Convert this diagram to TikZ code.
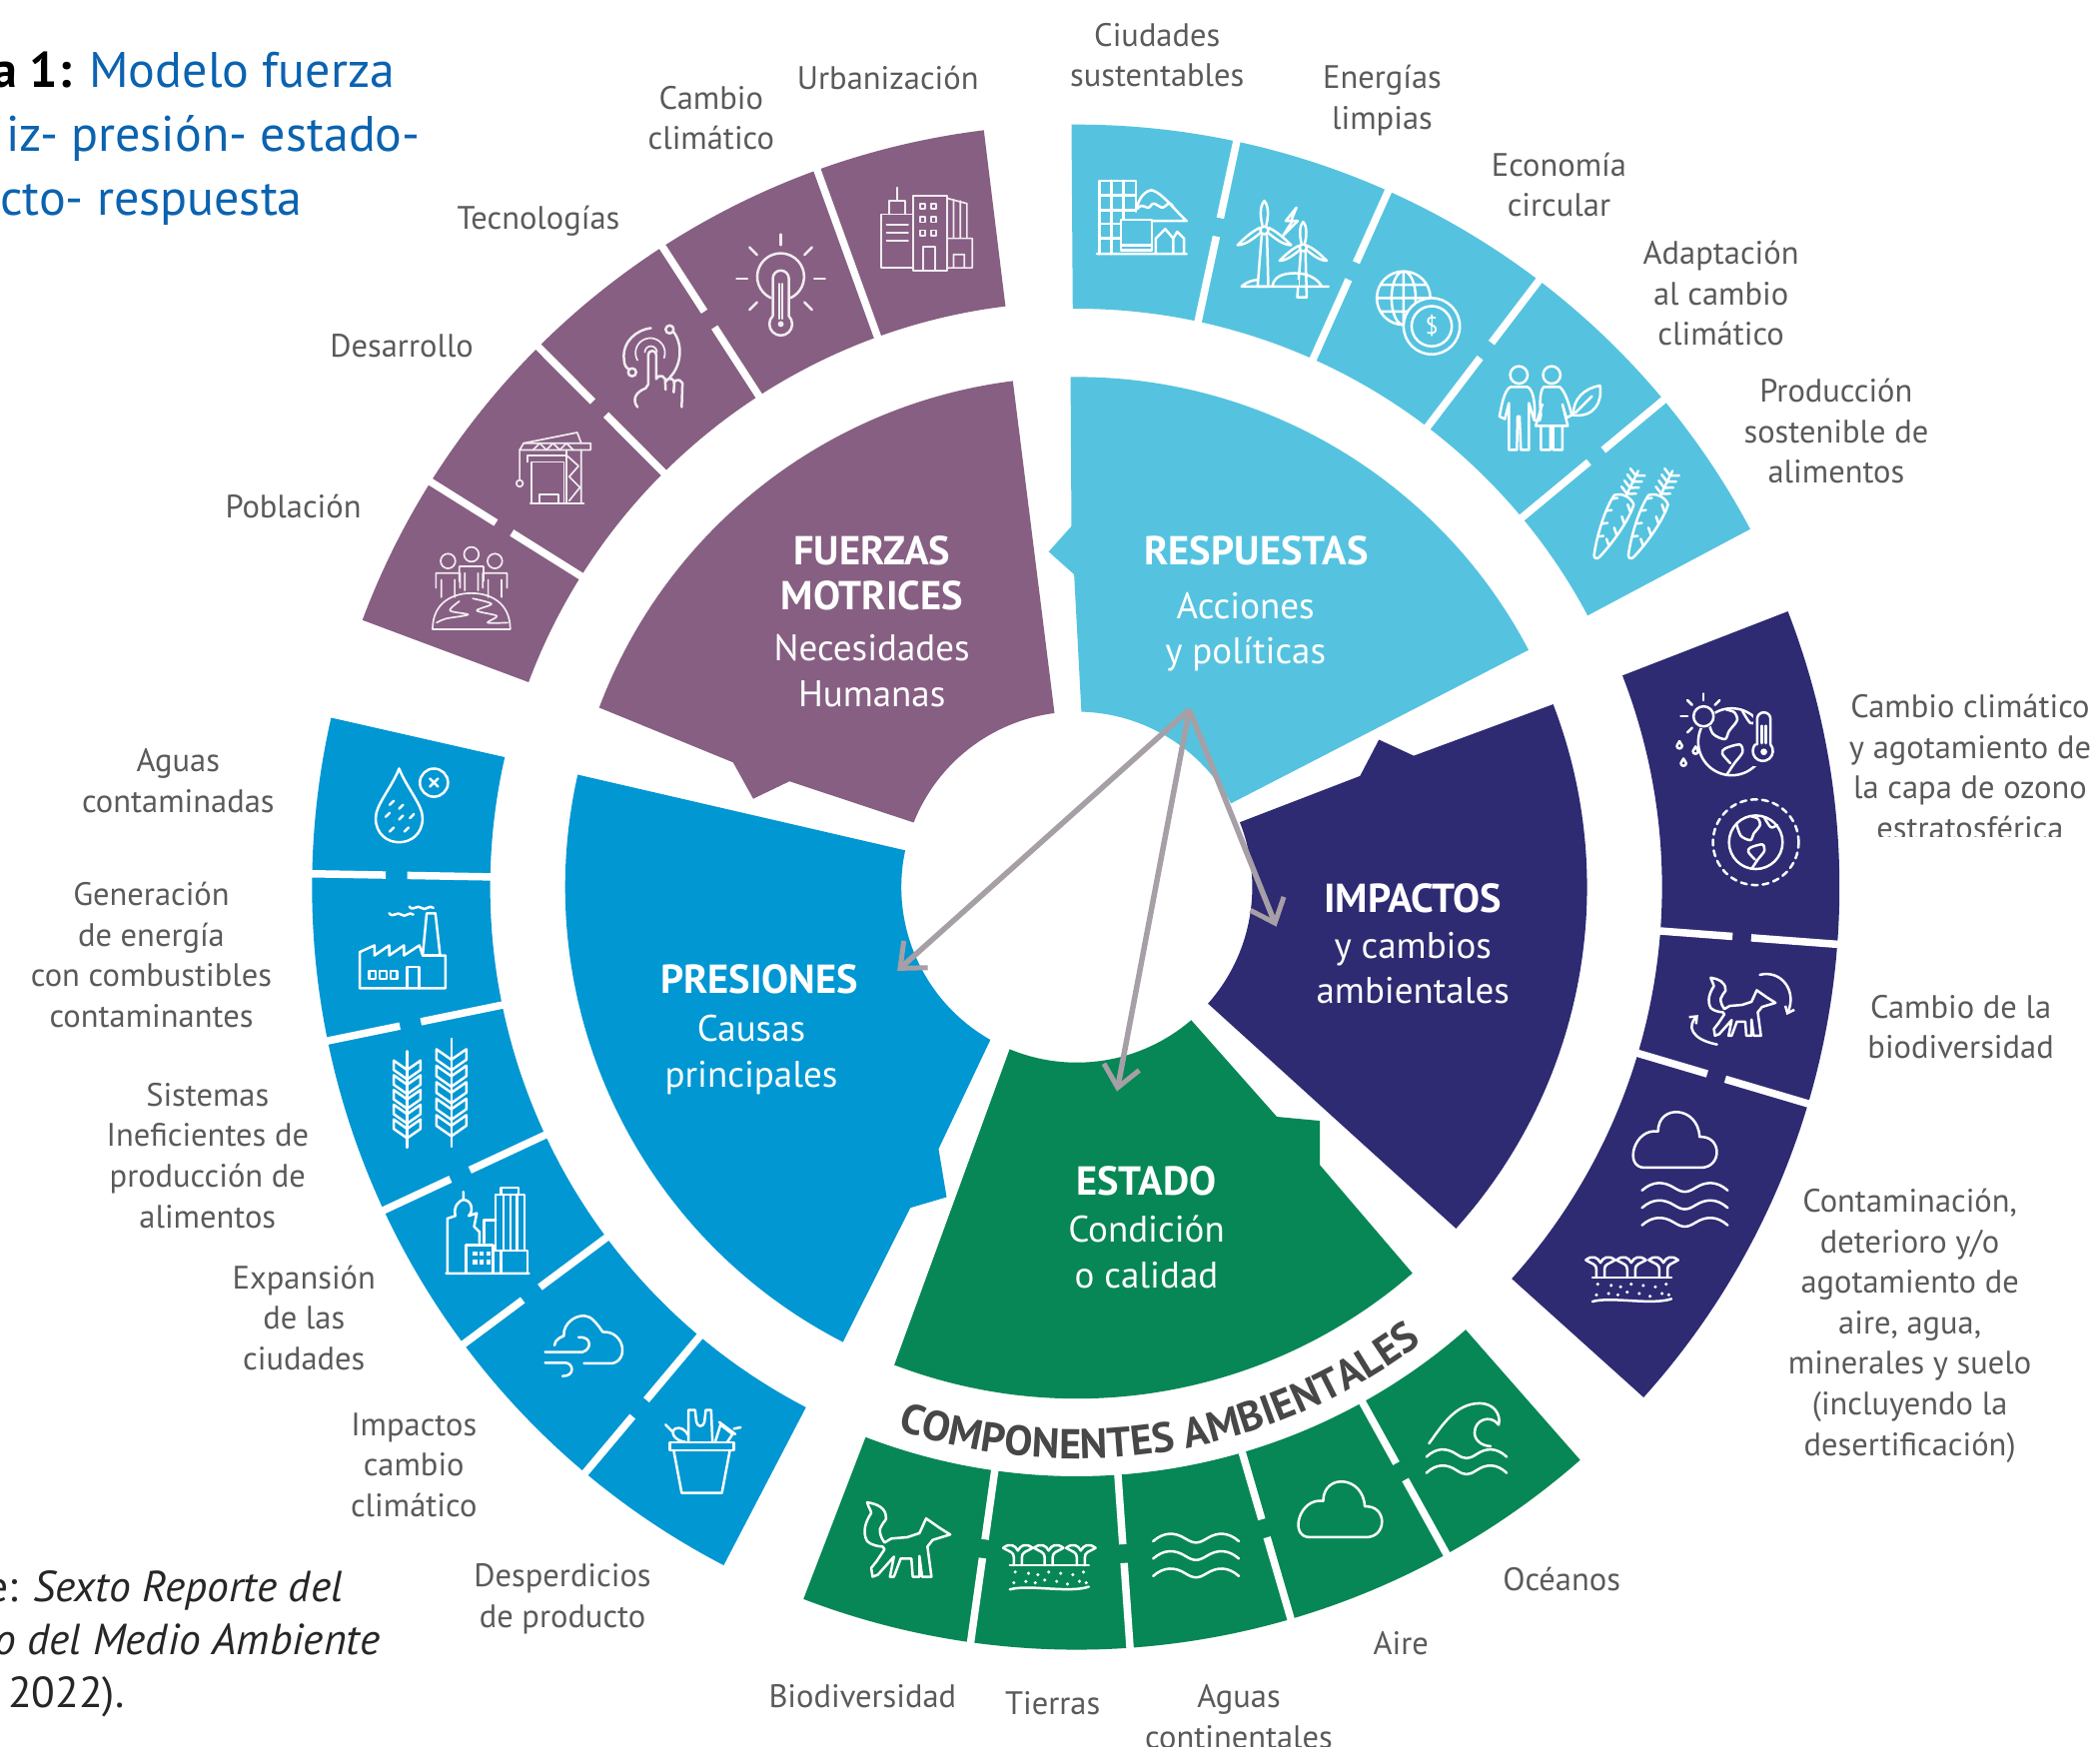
\documentclass[tikz,border=0pt]{standalone}
\usepackage{fontspec}
\setmainfont{PT Sans}
\usetikzlibrary{arrows.meta,decorations.text,calc}
\definecolor{cpur}{HTML}{875F83}
\definecolor{ccya}{HTML}{55C3DF}
\definecolor{cnav}{HTML}{2E2B73}
\definecolor{cgre}{HTML}{078755}
\definecolor{cblu}{HTML}{0097D3}
\definecolor{ctxt}{HTML}{5A5A5A}
\definecolor{ctit}{HTML}{0B63B0}
\definecolor{carr}{HTML}{A69FA6}
\colorlet{iconc}{white}
\newcommand{\ringseg}[5]{\fill[#1] ([shift={(c)}]#4:#3) arc[start angle=#4,end angle=#5,radius=#3] -- ([shift={(c)}]#5:#2) arc[start angle=#5,end angle=#4,radius=#2] -- cycle;}
\newcommand{\gapcut}[5]{\draw[cutline] ([shift={(c)}]#1:#2) -- ([shift={(c)}]#1:#4); \draw[cutline] ([shift={(c)}]#1:#5) -- ([shift={(c)}]#1:#3);}
\newcommand{\fullcut}[3]{\draw[cutline] ([shift={(c)}]#1:#2) -- ([shift={(c)}]#1:#3);}
\newcommand{\wavepath}[2]{(-#2,#1-2) .. controls (-.75*#2,#1+5) and (-.5*#2,#1+5) .. (-.25*#2,#1) .. controls (-.05*#2,#1-4) and (.05*#2,#1-4) .. (.25*#2,#1) .. controls (.5*#2,#1+5) and (.75*#2,#1+5) .. (#2,#1-2)}
\tikzset{
 x=1.34056pt,y=1.34056pt,
 cutline/.style={white,line width=7.5pt},
 ic/.style={draw=iconc,line width=2.5pt,line cap=round,line join=round},
 thin ic/.style={ic,line width=1.7pt},
 lab/.style={inner sep=0pt,align=center,text=ctxt,font=\fontsize{32.5}{40.6}\selectfont},
 head/.style={inner sep=0pt,align=center,text=white,font=\fontsize{40.5}{45.7}\selectfont\bfseries},
 sub/.style={inner sep=0pt,align=center,text=white,font=\fontsize{37}{45.7}\selectfont},
 tit/.style={inner sep=0pt,anchor=base east,text=ctit,font=\fontsize{50}{50}\selectfont},
 src/.style={inner sep=0pt,anchor=base east,text=black!85,font=\fontsize{43.5}{50}\selectfont},
 flow/.style={draw=carr,line width=5.5pt,-{Straight Barb[length=21pt,width=36pt,line width=5pt]}},
 pics/cloudi/.style={code={\draw[ic] (-22,-20) -- (20,-20) .. controls (36,-20) and (36,4) .. (19,3) .. controls (18,26) and (-12,28) .. (-12,7) .. controls (-30,10) and (-38,-20) .. (-22,-20) -- cycle;}},
 pics/wavesi/.style={code={\draw[ic] \wavepath{13}{32} \wavepath{0}{32} \wavepath{-13}{32};}},
 pics/planti/.style={code={
   \foreach \q in {-23,0,24}{\draw[ic] (\q-11,13) .. controls (\q-6,17) and (\q-2,15) .. (\q,11) .. controls (\q+2,15) and (\q+6,17) .. (\q+11,13) .. controls (\q+6,10) and (\q+3,10) .. (\q+3,6) -- (\q+3,0) (\q-11,13) .. controls (\q-6,10) and (\q-3,10) .. (\q-3,6) -- (\q-3,0);}
   \draw[ic] (-29,0) -- (30,0);
   \draw[ic] (-29,-18) .. controls (-15,-14) and (15,-21) .. (30,-16);
   \foreach \q/\r in {-25/-5,-15/-6,-8/-7,0/-5,9/-6,18/-7,26/-5,-26/-13,-17/-12,-10/-13,-3/-11,6/-12,14/-14,23/-12,28/-13}{\fill[iconc] (\q,\r) circle (1.3);}
 }},
 pics/foxi/.style={code={\draw[ic] (33,4) -- (25,9) -- (15,16) -- (10,5) -- (1,2) -- (-11,1) -- (-16,-2) .. controls (-20,3) and (-20,9) .. (-19,9) .. controls (-17,14) and (-14,15) .. (-15,17) .. controls (-15,24) and (-22,27) .. (-29,28) .. controls (-28,24) and (-26,22) .. (-26,20) .. controls (-30,14) and (-33,6) .. (-29,-1) .. controls (-26,-4) and (-20,-5) .. (-17.5,-5) -- (-16,-7) -- (-22,-16) -- (-26,-21) -- (-25,-27.5) -- (-21,-26) -- (-9,-12.5) -- (-12,-27.5) -- (-9,-27.5) -- (-4,-14) -- (4,-14) -- (5,-27.5) -- (10,-27.5) -- (10,-12) -- (12,-27.5) -- (19,-27.5) -- (16,-5) -- (20,0) -- cycle;}},
 pics/popi/.style={code={
   \draw[thin ic] (-29,-30) -- (29,-30) (-29,-30) .. controls (-29,-10) and (-14,-3) .. (0,-3) .. controls (14,-3) and (29,-10) .. (29,-30);
   \draw[thin ic] plot[smooth] coordinates {(-26,-25) (-19,-22) (-2.5,-19) (-16,-16) (-9,-9)};
   \draw[thin ic] plot[smooth] coordinates {(1,-7) (15,-11) (4,-16) (19,-20) (12,-25) (27,-25)};
   \foreach \q/\r in {-17.5/21,0/26,17.5/21}{\draw[thin ic] (\q,\r) circle (5.5) (\q-9,\r-20) -- (\q-9,\r-9) -- (\q+9,\r-9) -- (\q+9,\r-20) (\q-5,\r-14) -- (\q-5,\r-27) (\q+5,\r-14) -- (\q+5,\r-27);}
 }},
 pics/crani/.style={code={
   \draw[thin ic] (-15,-26) -- (-15,5) -- (9,5) -- (9,-26) (-18,5) -- (-18,10) -- (11,10) -- (11,5);
   \draw[thin ic] (-16,-26) -- (24,-26) (-9,-26) -- (-9,-19) -- (5,-19) -- (5,-26);
   \draw[thin ic] (-24,14) -- (29,14) -- (29,19) -- (-21,19) -- cycle;
   \draw[thin ic] (-21,19) -- (19,27) -- (22,19) (-14,14) -- (-9,19) -- (-4,14) -- (1,19) -- (6,14) -- (11,19) -- (16,14);
   \draw[thin ic] (-24,14) -- (-24,-8) (-24,-11) circle (2.5);
   \draw[thin ic] (11,14) -- (11,-26) (22,14) -- (22,-26) (11,10) -- (20,2) -- (13,-6) -- (21,-14) -- (13,-24);
 }},
 pics/touchi/.style={code={
   \draw[thin ic] (-6.5,10) arc[start angle=180,end angle=0,radius=4.5];
   \draw[thin ic] (-12,4) arc[start angle=210,end angle=-20,radius=11];
   \draw[ic] (-2,28) .. controls (-12,27) and (-24,18) .. (-22,4) .. controls (-22,0) and (-20,-2) .. (-18,-3);
   \draw[ic] (-16,-5) circle (3) (12,27) circle (3);
   \draw[ic] (15,25) .. controls (22,16) and (21,0) .. (12,-9);
   \draw[ic] (-12,-31) .. controls (-16,-26) and (-14,-20) .. (-6,-17) -- (-4,-14) -- (-4,8) arc[start angle=180,end angle=0,radius=3] -- (2,-10) arc[start angle=160,end angle=20,radius=3.5] -- (9,-18) (9,-12) arc[start angle=160,end angle=20,radius=3.5] -- (15,-20) (15,-13) arc[start angle=160,end angle=20,radius=3.5] -- (21,-31);
 }},
 pics/thermi/.style={code={
   \draw[ic] (-7.5,-8.5) arc[start angle=245,end angle=-65,radius=17.5];
   \draw[ic] (-6,-22) -- (-6,6) arc[start angle=180,end angle=0,radius=6] -- (6,-22) arc[start angle=45,end angle=-225,radius=8.5];
   \draw[ic] (-1,2) -- (-1,-24) (1,2) -- (1,-24);
   \fill[iconc] (0,-28) circle (2.2);
   \foreach \a in {0,45,90,135,180,-45,225}{\draw[ic] ([shift={(0,6)}]\a:25) -- ([shift={(0,6)}]\a:33);}
 }},
 pics/towni/.style={code={
   \draw[thin ic] (-32,-28) rectangle (-8,12) (-26,12) -- (-26,22) -- (-14,22) -- (-14,12) (-20,22) -- (-20,32) (-28,4) -- (-12,4) (-28,-2) -- (-12,-2) (-28,-8) -- (-12,-8);
   \draw[thin ic] (-8,-30) rectangle (17,26) (-1,-30) -- (-1,-12) -- (8,-12) -- (8,-30);
   \foreach \q in {-3,5}{\foreach \r in {16,6,-4}{\draw[thin ic] (\q,\r) rectangle ++(4,4);}}
   \draw[thin ic] (17,24) -- (32,20) -- (32,-6) (22,23) -- (22,-6) (27,22) -- (27,-6) (17,-6) -- (36,-6) -- (36,-28) -- (17,-28) (22,-28) -- (22,-18) -- (30,-18) -- (30,-28);
 }},
 pics/cityi/.style={code={
   \draw[ic] (-31,-27.5) -- (-31,27) -- (-4,27) -- (-4,4) (-31,-16) -- (-15,-16) (-31,-5) -- (-15,-5) (-31,5) -- (-4,5) (-31,16) -- (-4,16) (-22,-27.5) -- (-22,27) (-13,-2) -- (-13,27);
   \draw[ic] (-15,-2) rectangle (8,-25);
   \draw[ic] (-15,-21) -- (8,-21);
   \draw[ic] (-3,8) .. controls (0,18) and (6,20) .. (8,20) .. controls (16,18) and (26,4) .. (34,-3) -- (8,-3);
   \draw[ic] (-3,6) .. controls (2,12) and (4,4) .. (7,8) .. controls (10,14) and (14,4) .. (18,8) .. controls (20,10) and (22,12) .. (24,7);
   \draw[ic] (-33,-27.5) -- (34,-27.5) (11,-27.5) -- (11,-16) -- (18,-9) -- (24,-16) -- (24,-27.5) (24,-16) -- (27,-11) -- (32,-16) -- (32,-27.5);
 }},
 pics/milli/.style={code={
   \draw[ic] (-2,-4) -- (-5,-42) -- (3,-42) -- (2,-4);
   \draw[ic] (0,0) circle (3);
   \draw[ic] (-1.5,4) .. controls (-4,14) and (-2,20) .. (0,22) .. controls (2,20) and (4,14) .. (1.5,4);
   \draw[ic] (3,2) .. controls (10,-1) and (17,-8) .. (20,-11) .. controls (14,-11) and (8,-6) .. (3,-2);
   \draw[ic] (-3,2) .. controls (-10,-1) and (-17,-8) .. (-20,-11) .. controls (-14,-11) and (-8,-6) .. (-3,-2);
 }},
 pics/carroti/.style={code={
   \begin{scope}[rotate=64]
   \draw[ic] (-25,-2) .. controls (-10,-7) and (12,-10) .. (22,-8) .. controls (26,-4) and (26,4) .. (22,8) .. controls (12,10) and (-10,7) .. (-25,2) .. controls (-27,1) and (-27,-1) .. (-25,-2) -- cycle;
   \foreach \q/\s in {-14/5,-4/6.5,6/8,16/8}{\draw[ic] (\q,-\s) -- (\q+4,-\s+4) (\q+3,\s) -- (\q+5,\s-3);}
   \draw[ic] (25,0) -- (46,0);
   \foreach \q in {27,32,37,42}{\draw[ic] (\q,0) -- (\q+3,6) (\q,0) -- (\q+3,-6);}
   \end{scope}
 }},
 pics/eartheri/.style={code={
   \draw[ic] (0,0) circle (25);
   \draw[ic] plot[smooth] coordinates {(-18,17) (-14,6) (-5,2) (-2,8) (4,16) (2,22) (-4,24)};
   \draw[ic] plot[smooth] coordinates {(-4,-25) (2,-16) (8,-8) (6,-2) (-5,-5) (-7,-9) (-1,-16)};
   \draw[ic] plot[smooth] coordinates {(8,23) (14,14) (20,16)};
 }},
 pics/wheati/.style={code={
   \draw[ic] (0,-36) -- (0,36);
   \foreach \r in {-20,-9,2,13,24}{\draw[ic] (0,\r-9) -- (-10,\r-2) -- (-10,\r+5) -- (0,\r-2) -- (10,\r+5) -- (10,\r-2) -- (0,\r-9);}
 }},
}
\begin{document}
\begin{tikzpicture}
\path[use as bounding box] (0,0) rectangle (1568,-1310.64);
\clip (0,0) rectangle (1568,-1310.64);
\fill[white] (0,0) rectangle (1568,-1310.64);
\coordinate (c) at (804,-662.5);
% ---- outer rings
\ringseg{cpur}{437}{569.5}{97}{159.5}
\ringseg{ccya}{432}{569.5}{90.4}{28}
\ringseg{cnav}{437}{569.5}{21.2}{-42}
\ringseg{cgre}{440}{569.5}{-48.7}{-111}
\ringseg{cblu}{438}{571}{167.2}{242.5}
\fullcut{109.9}{430}{575}
\gapcut{122.9}{430}{575}{498}{512}
\gapcut{134.9}{430}{575}{498}{512}
\gapcut{147.9}{430}{575}{498}{512}
\gapcut{77.9}{425}{575}{497}{511}
\gapcut{65.9}{425}{575}{497}{511}
\gapcut{52.7}{425}{575}{497}{511}
\gapcut{39.7}{425}{575}{497}{511}
\gapcut{-4.3}{430}{575}{491}{505}
\gapcut{-16.5}{430}{575}{491}{505}
\gapcut{-61}{435}{575}{492}{506}
\gapcut{-73.7}{435}{575}{492}{506}
\gapcut{-86}{435}{575}{492}{506}
\gapcut{-98}{435}{575}{492}{506}
\gapcut{179}{430}{575}{500}{516}
\gapcut{191.6}{430}{575}{500}{516}
\gapcut{205}{430}{575}{500}{516}
\gapcut{216.7}{430}{575}{500}{516}
\gapcut{230}{430}{575}{500}{516}
% ---- inner sectors
\fill[cpur] ([shift={(c)}]97.2:381) arc[start angle=97.2,end angle=159.4,radius=381] -- (547.4,-569.4) -- (562.4,-596.5) -- (589.5,-583.5) -- ([shift={(c)}]158.4:131) arc[start angle=158.4,end angle=97.3,radius=131] -- cycle;
\fill[ccya] ([shift={(c)}]90.7:381) arc[start angle=90.7,end angle=27.7,radius=381] -- ([shift={(c)}]28.5:131) arc[start angle=28.5,end angle=88.5,radius=131] -- (802,-429) -- (783,-412) -- (800,-393) -- cycle;
\fill[cnav] ([shift={(c)}]21:381) arc[start angle=21,end angle=-42,radius=381] -- ([shift={(c)}]-41.6:131) arc[start angle=-41.6,end angle=21.7,radius=131] -- (1015.5,-579.5) -- (1029.6,-552.4) -- (1055.6,-564.4) -- cycle;
\fill[cgre] ([shift={(c)}]-49:382) arc[start angle=-49,end angle=-110.9,radius=382] -- ([shift={(c)}]-112.5:131) arc[start angle=-112.5,end angle=-49.3,radius=131] -- (953.4,-834) -- (985.5,-837) -- (985.5,-870) -- cycle;
\fill[cblu] ([shift={(c)}]167.3:382) arc[start angle=167.3,end angle=242.8,radius=382] -- (679.7,-902) -- (706.8,-894) -- (700.8,-858) -- ([shift={(c)}]240.5:131) arc[start angle=240.5,end angle=167.9,radius=131] -- cycle;
% ---- icons purple
\begin{scope}
\colorlet{iconc}{white!88!cpur}
\pic at (352,-440) {popi};
\pic at (412,-350) {crani};
\pic at (488,-273) {touchi};
\pic at (583,-214) {thermi};
\pic at (690,-172) {towni};
\end{scope}
% ---- icons cyan
\pic at (852,-162) {cityi};
\begin{scope}[shift={(957,-181)}]
 \pic at (-13,9) {milli};
 \pic[scale=.88] at (16,-4) {milli};
 \fill[ccya] (5,-34) rectangle (13,-28);
 \draw[ic] (-30,-33) -- (35,-33) (-30,-33) .. controls (-26,-29) and (-20,-28) .. (-18,-28) (-7,-33) .. controls (-6,-26) and (0,-23) .. (10,-23) .. controls (18,-23) and (26,-26) .. (30,-33);
 \draw[ic] (11,26) -- (3,16) -- (8,16) -- (1,5) -- (12,16) -- (7,16) -- cycle;
\end{scope}
\begin{scope}[shift={(1059,-233.6)}]
 \draw[ic] (-11,11) circle (20) (-11,11) ellipse (9 and 20) (-31,11) -- (9,11) (-28,21) -- (6,21) (-28,1) -- (6,1) (-11,31) -- (-11,-9);
 \fill[ccya] (10,-10) circle (21);
 \draw[ic] (10,-10) circle (21) (10,-10) circle (15);
 \node[inner sep=0pt,text=white,font=\fontsize{24}{24}\selectfont] (usd) at (10,-10) {\$};
\end{scope}
\begin{scope}[shift={(1158.6,-306)}]
 \draw[ic] (-24.5,26) circle (6.5) (0,26) circle (6.5);
 \draw[ic] (-31,17) .. controls (-36,14) and (-38,0) .. (-39,-5) -- (-35,-7) -- (-32,5) -- (-32,-30) -- (-26,-30) -- (-25.5,-5) -- (-24,-5) -- (-23,-30) -- (-17,-30) -- (-17,5) -- (-13,-8) -- (-9,-8) -- (-8,-4) .. controls (-9,4) and (-9,14) .. (-6,17) (-31,17) -- (-18,17) .. controls (-14,15) and (-12,6) .. (-13,-8);
 \draw[ic] (-6,17) -- (6,17) .. controls (10,14) and (13,4) .. (15,-4) -- (11,-6) -- (8,4) -- (12,-12) -- (-12,-12) -- (-7,4) (-8,-12) -- (-8,-30) -- (-1,-30) -- (-1,-12) (1,-12) -- (1,-30) -- (8,-30) -- (8,-12);
 \draw[ic] (16,-4) .. controls (16,8) and (24,16) .. (36,18) .. controls (38,6) and (32,-6) .. (16,-4) (18,-2) -- (30,10);
\end{scope}
\pic at (1203,-393) {carroti};
\pic at (1228.6,-393) {carroti};
% ---- icons navy
\begin{scope}[shift={(1293,-554)}]
 \pic at (0,0) {eartheri};
 \fill[cnav] (16,-18) rectangle (33,24);
 \draw[ic] (19,-2) -- (19,17) arc[start angle=180,end angle=0,radius=5] -- (29,-2) arc[start angle=40,end angle=-220,radius=7.5];
 \draw[ic] (22.5,-1) -- (22.5,12) (25.5,-1) -- (25.5,12);
 \fill[iconc] (24,-7.5) circle (2.5);
 \fill[cnav] (-21,19) circle (9);
 \draw[ic] (-21,19) circle (7.5);
 \foreach \a in {45,90,135,180,225}{\draw[ic] ([shift={(-21,19)}]\a:12) -- ([shift={(-21,19)}]\a:17);}
 \foreach \q/\r in {-39/-3,-27/-7,-36/-16}{\draw[ic] (\q,\r+3.5) -- (\q-2,\r) arc[start angle=180,end angle=360,radius=2] -- cycle;}
\end{scope}
\begin{scope}[shift={(1311,-629)}]
 \draw[ic,dash pattern=on 6pt off 5pt] (0,0) circle (32);
 \pic[scale=.8] at (0,0) {eartheri};
\end{scope}
\begin{scope}[shift={(1300,-752)}]
 \pic[scale=.78] at (0,0) {foxi};
 \draw[ic,-{Straight Barb[length=6pt,width=10pt]}] (-18,-28) .. controls (-38,-24) and (-40,-14) .. (-32,-6);
 \draw[ic,-{Straight Barb[length=6pt,width=10pt]}] (14,24) .. controls (30,28) and (42,12) .. (34,-6);
\end{scope}
\pic at (1250,-852) {cloudi};
\pic at (1258,-900) {wavesi};
\pic at (1218,-954) {planti};
% ---- icons green
\pic at (676.5,-1150) {foxi};
\pic at (783,-1169) {planti};
\pic at (893,-1162) {wavesi};
\pic at (1000,-1128) {cloudi};
\begin{scope}[shift={(1095,-1078)}]
 \draw[ic] (-28,0) .. controls (-18,14) and (-8,30) .. (10,30) .. controls (20,30) and (26,22) .. (24,14) .. controls (18,22) and (6,18) .. (6,8) .. controls (6,2) and (12,-2) .. (18,-2);
 \draw[ic] \wavepath{-8}{30} \wavepath{-20}{30};
\end{scope}
% ---- icons blue
\begin{scope}[shift={(298,-609)}]
 \draw[ic] (0,35) .. controls (-6,20) and (-17.5,8) .. (-17.5,-2) .. controls (-17.5,-26) and (17.5,-26) .. (17.5,-2) .. controls (17.5,8) and (6,20) .. (0,35) -- cycle;
 \foreach \q/\r in {-10/-1,-7/8,0/5,8/-2,-7/-12,4/-12,0/-3}{\draw[ic] (\q,\r) -- ++(3,3);}
 \draw[ic] (26,24.5) circle (10.5) (23,21.5) -- (29,27.5) (23,27.5) -- (29,21.5);
\end{scope}
\begin{scope}[shift={(300.6,-721)}]
 \draw[ic] (-32,10) -- (-32,-17) -- (32,-17) -- (32,7.5) -- (28,7.5) -- (24.5,39) -- (18,39) -- (15,7.5) -- (12.5,15) -- (1,7.5) -- (1,15) -- (-10,7.5) -- (-10,15) -- (-21,7.5) -- (-21,15) -- cycle;
 \draw[ic] (15,7.5) -- (28,7.5);
 \draw[ic] (3.5,-17) -- (3.5,-1) -- (12.5,-1) -- (12.5,-17);
 \foreach \q in {-25,-17,-9}{\draw[ic] (\q,-10) rectangle ++(5,6);}
 \draw[ic] (-10,39) .. controls (-7,35) and (-4,41) .. (-1,38) .. controls (2,35) and (5,41) .. (8,38) (5,44) .. controls (8,40) and (11,46) .. (14,43) .. controls (17,40) and (20,46) .. (23,43);
\end{scope}
\pic at (304,-821) {wheati};
\pic[scale=1.12] at (337,-816) {wheati};
\begin{scope}[shift={(364,-920)}]
 \draw[ic] (-31,-31) -- (31,-31) (-30,-31) -- (-30,10) -- (-24,12) .. controls (-26,20) and (-20,24) .. (-18,24) -- (-18,30) (-18,24) .. controls (-12,24) and (-10,16) .. (-14,12) -- (-8,14) -- (-10,4) -- (-6,0) -- (-6,-8);
 \draw[ic] (-16,-31) rectangle (4,-10);
 \foreach \q in {-11,-6,-1}{\foreach \r in {-24,-18}{\fill[iconc] (\q,\r) rectangle ++(3.2,3.5);}}
 \draw[ic] (-2.5,-8) -- (-2.5,9) -- (6,9);
 \draw[ic] (6,-14) -- (6,28) -- (27.5,28) -- (27.5,-14) (12,28) -- (12,-14) (17,28) -- (17,-14) (22,28) -- (22,-14) (10,28) -- (10,33) -- (23,33) -- (23,28);
 \draw[ic] (4,-14) -- (30,-14) -- (30,-31) (10,-14) -- (10,-31);
\end{scope}
\begin{scope}[shift={(436,-1005.7)}]
 \draw[ic] (-22,1) .. controls (-22,6) and (-15,8) .. (-15,8) .. controls (-16,18) and (-4,26) .. (4,22) .. controls (8,20) and (12,14) .. (14,11) .. controls (30,12) and (34,-10) .. (21,-12.5) -- (0,-12.5);
 \draw[ic] (-29,-4) -- (-1,-4) .. controls (6,-2) and (6,8) .. (-4,7);
 \draw[ic] (-29,-12) -- (-14,-12) .. controls (-8,-12) and (-6,-22) .. (-16,-22);
\end{scope}
\begin{scope}[shift={(524,-1080)}]
 \draw[ic] (-24,-3) rectangle (24,3);
 \draw[ic] (-21,-3) -- (-15,-35) -- (15,-35) -- (21,-3);
 \draw[ic] (-10,3) -- (-10,27) -- (-5,27) -- (-4,18) .. controls (-3,14) and (1,14) .. (2,18) -- (3,27) -- (7,27) -- (8,3);
 \draw[ic] (-12,3) .. controls (-20,4) and (-24,10) .. (-20,13) .. controls (-16,15) and (-12,12) .. (-10,8) (-22,11) -- (-27,16);
 \draw[ic] (10,3) -- (14,16) -- (23,9) -- (19,3) (13,18) -- (25,9) (24,13) -- (29,14);
\end{scope}
% ---- component label
\path[decorate,decoration={text along path,text={|\fontsize{42}{42}\selectfont\bfseries|COMPONENTES AMBIENTALES},text color=black!72,text align=fit to path}] ([shift={(c)}]-108.3:427) arc[start angle=-108.3,end angle=-53,radius=427];
% ---- sector text
\node[head] (h1) at (651,-428) {FUERZAS\\MOTRICES};
\node[sub] (s1) at (651,-501) {Necesidades\\Humanas};
\node[head] (h2) at (938,-411) {RESPUESTAS};
\node[sub] (s2) at (930,-472) {Acciones\\y políticas};
\node[head] (h3) at (1055,-671) {IMPACTOS};
\node[sub] (s3) at (1055,-723) {y cambios\\ambientales};
\node[head] (h4) at (567,-731) {PRESIONES};
\node[sub] (s4) at (561,-788) {Causas\\principales};
\node[head] (h5) at (856,-882) {ESTADO};
\node[sub] (s5) at (856,-935) {Condición\\o calidad};
% ---- labels
\node[lab] (l1) at (663,-58) {Urbanización};
\node[lab] (l2) at (531,-88) {Cambio\\climático};
\node[lab] (l3) at (402,-165) {Tecnologías};
\node[lab] (l4) at (300,-258) {Desarrollo};
\node[lab] (l5) at (219,-378) {Población};
\node[lab] (l6) at (864,-41) {Ciudades\\sustentables};
\node[lab] (l7) at (1032,-75) {Energías\\limpias};
\node[lab] (l8) at (1164,-138) {Economía\\circular};
\node[lab] (l9) at (1285,-219) {Adaptación\\al cambio\\climático};
\node[lab] (l10) at (1371,-322) {Producción\\sostenible de\\alimentos};
\begin{scope}
\clip (1350,-500) rectangle (1568,-624.5);
\node[lab] (l11) at (1471,-573) {Cambio climático\\y agotamiento de\\la capa de ozono\\estratosférica};
\end{scope}
\node[lab] (l12) at (1464,-767) {Cambio de la\\biodiversidad};
\node[lab] (l13) at (1426,-990) {Contaminación,\\deterioro y/o\\agotamiento de\\aire, agua,\\minerales y suelo\\(incluyendo la\\desertificación)};
\node[lab] (l14) at (1166,-1179) {Océanos};
\node[lab] (l15) at (1046,-1227) {Aire};
\begin{scope}
\clip (800,-1250) rectangle (1050,-1304.5);
\node[lab] (l16) at (925,-1282) {Aguas\\continentales};
\end{scope}
\node[lab] (l17) at (786,-1272) {Tierras};
\node[lab] (l18) at (644,-1267) {Biodiversidad};
\node[lab] (l19) at (420,-1194) {Desperdicios\\de producto};
\node[lab] (l20) at (309,-1094) {Impactos\\cambio\\climático};
\node[lab] (l21) at (227,-984) {Expansión\\de las\\ciudades};
\node[lab] (l22) at (155,-863) {Sistemas\\Ineficientes de\\producción de\\alimentos};
\node[lab] (l23) at (113,-713) {Generación\\de energía\\con combustibles\\contaminantes};
\node[lab] (l24) at (133,-583) {Aguas\\contaminadas};
% ---- title and source
\node[tit] (t1) at (295,-65) {\textcolor{black}{\bfseries ra 1:} Modelo fuerza};
\node[tit] (t2) at (314,-113) {iz- presión- estado-};
\node[tit] (t3) at (226,-161) {cto- respuesta};
\node[src] (f1) at (256,-1196) {e: \textit{Sexto Reporte del}};
\node[src] (f2) at (284,-1236) {\textit{o del Medio Ambiente}};
\node[src] (f3) at (93,-1275) {, 2022).};
% ---- flows
\coordinate (apex) at (888,-530);
\coordinate (toP) at (670,-725);
\coordinate (toE) at (834,-815);
\coordinate (toI) at (953,-692);
\draw[flow] (apex) -- (toP);
\draw[flow] (apex) -- (toE);
\draw[flow] (apex) -- (toI);
\end{tikzpicture}
\end{document}
